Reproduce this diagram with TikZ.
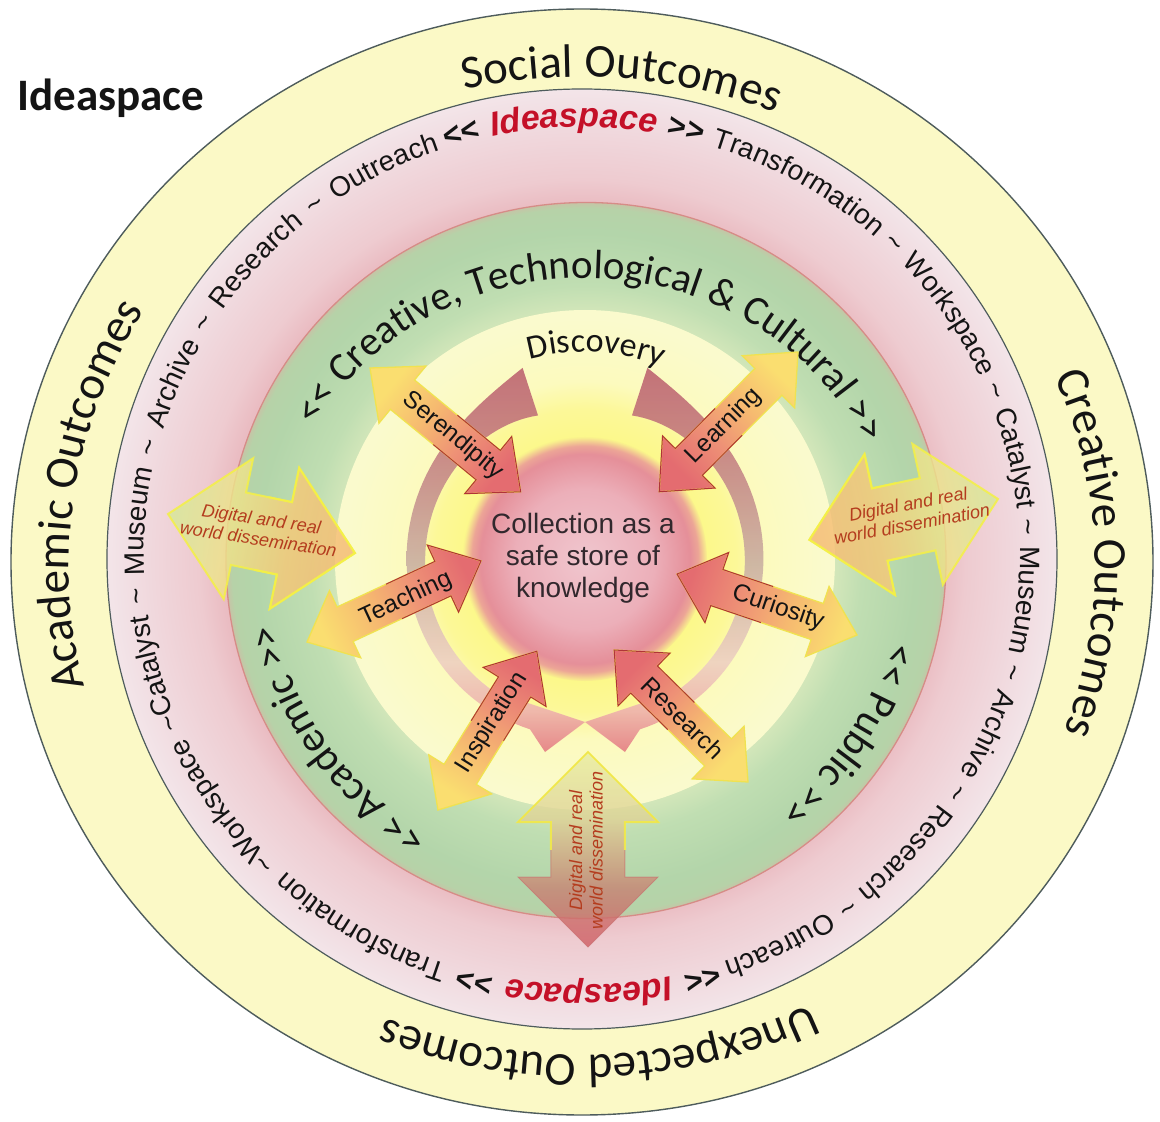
\documentclass[tikz,border=0pt]{standalone}
\usepackage{fontspec}
\newfontfamily\calib{Carlito}
\newfontfamily\arial{Liberation Sans}
\usetikzlibrary{decorations.text}

% ---------- colours ----------
\definecolor{outerfill}{RGB}{251,249,198}
\definecolor{ringline}{RGB}{78,92,92}
\definecolor{pr1}{RGB}{234,188,194}
\definecolor{pr2}{RGB}{238,203,208}
\definecolor{pr3}{RGB}{240,215,220}
\definecolor{pr4}{RGB}{243,229,233}
\definecolor{gr0}{RGB}{212,231,186}
\definecolor{gr1}{RGB}{192,222,178}
\definecolor{gr2}{RGB}{179,213,170}
\definecolor{gr3}{RGB}{182,210,168}
\definecolor{gr4}{RGB}{198,196,166}
\definecolor{greenrim}{RGB}{214,140,135}
\definecolor{yl0}{RGB}{252,248,135}
\definecolor{yl1}{RGB}{252,248,152}
\definecolor{yl2}{RGB}{252,250,190}
\definecolor{yl3}{RGB}{250,250,205}
\definecolor{pk0}{RGB}{240,198,206}
\definecolor{pk1}{RGB}{236,175,185}
\definecolor{pk2}{RGB}{229,143,153}
\definecolor{pk3}{RGB}{236,165,150}
\definecolor{pk4}{RGB}{250,244,140}
\definecolor{sa1}{RGB}{250,222,112}
\definecolor{sa2}{RGB}{246,186,112}
\definecolor{sa3}{RGB}{238,145,118}
\definecolor{sa4}{RGB}{228,108,112}
\definecolor{rimyel}{RGB}{240,226,80}
\definecolor{rimred}{RGB}{176,52,56}
\definecolor{dg1}{RGB}{214,232,150}
\definecolor{dg2}{RGB}{238,230,140}
\definecolor{dg3}{RGB}{246,200,118}
\definecolor{dg4}{RGB}{244,184,112}
\definecolor{db1}{RGB}{208,92,100}
\definecolor{db2}{RGB}{200,130,115}
\definecolor{db3}{RGB}{222,210,150}
\definecolor{db4}{RGB}{232,236,160}
\definecolor{rimglow}{RGB}{244,240,70}
\definecolor{rimrose}{RGB}{200,110,110}
\definecolor{b0}{RGB}{190,100,112}
\definecolor{b1}{RGB}{196,125,128}
\definecolor{b2}{RGB}{202,176,162}
\definecolor{b3}{RGB}{238,208,194}
\definecolor{b4}{RGB}{238,178,172}
\definecolor{b5}{RGB}{228,124,130}
\definecolor{ink}{RGB}{20,20,20}
\definecolor{idred}{RGB}{196,16,40}
\definecolor{dissred}{RGB}{180,60,30}
\definecolor{coreink}{RGB}{50,40,45}

% ---------- shadings ----------
\pgfdeclareradialshading{pinkring}{\pgfpointorigin}{color(0bp)=(pr1); color(18.9bp)=(pr1); color(20.2bp)=(pr2); color(22.6bp)=(pr3); color(25bp)=(pr4); color(50bp)=(pr4)}
\pgfdeclareradialshading{greendisc}{\pgfpointorigin}{color(0bp)=(gr0); color(17.2bp)=(gr0); color(19.2bp)=(gr1); color(22.9bp)=(gr2); color(24.6bp)=(gr3); color(25bp)=(gr4); color(50bp)=(gr4)}
\pgfdeclareradialshading{yellowdisc}{\pgfpointorigin}{color(0bp)=(yl0); color(11.4bp)=(yl0); color(15.1bp)=(yl1); color(17.9bp)=(yl2); color(24.2bp)=(yl3); color(25bp)=(yl3); color(50bp)=(yl3)}
\pgfdeclareradialshading{coredisc}{\pgfpointorigin}{color(0bp)=(pk0); color(14.3bp)=(pk1); color(21.5bp)=(pk2); color(23.2bp)=(pk3); color(25bp)=(pk4); color(50bp)=(pk4)}
\pgfdeclarehorizontalshading{smallgrad}{100bp}{color(0bp)=(sa1); color(25bp)=(sa1); color(42bp)=(sa2); color(58bp)=(sa3); color(75bp)=(sa4); color(100bp)=(sa4)}
\pgfdeclarehorizontalshading{sidegrad}{100bp}{color(0bp)=(dg1); color(25bp)=(dg1); color(40bp)=(dg2); color(58bp)=(dg3); color(75bp)=(dg4); color(100bp)=(dg4)}
\pgfdeclarehorizontalshading{bottomgrad}{100bp}{color(0bp)=(db1); color(25bp)=(db1); color(40bp)=(db2); color(58bp)=(db3); color(75bp)=(db4); color(100bp)=(db4)}
\pgfdeclareverticalshading{bandgrad}{100bp}{color(0bp)=(b5); color(25bp)=(b5); color(30.4bp)=(b4); color(36.7bp)=(b3); color(49.5bp)=(b2); color(64.8bp)=(b1); color(75bp)=(b0); color(100bp)=(b0)}

% ---------- double-headed arrow outline ----------
% #1 length, #2 head length, #3 head half width, #4 shaft half width
\newcommand\twowaypath[4]{(0,0) -- (#2,#3) -- (#2,#4) -- ({#1-#2},#4) -- ({#1-#2},#3) -- (#1,0) -- ({#1-#2},-#3) -- ({#1-#2},-#4) -- (#2,-#4) -- (#2,-#3) -- cycle}
% #1 outer tip, #2 direction, #3..#6 as above, #7 look
\newcommand\twowayarrow[7]{%
  \begin{scope}[shift={(#1)}, rotate=#2, shading angle=#2, #7]
    \path[twoway fill] \twowaypath{#3}{#4}{#5}{#6};
    \draw[twoway rim out] \twowaypath{#3}{#4}{#5}{#6};
    \begin{scope}
      \clip ({#3/2},{-#5-6}) rectangle ({#3+6},{#5+6});
      \draw[twoway rim in] \twowaypath{#3}{#4}{#5}{#6};
    \end{scope}
  \end{scope}}

% ---------- text formats ----------
\newcommand\outerfmt{\calib\fontsize{47}{56}\selectfont\color{ink}}
\newcommand\greenfmt{\calib\fontsize{41}{49}\selectfont\color{ink}}
\newcommand\greenlow{\calib\fontsize{42}{50}\selectfont\color{ink}}
\newcommand\discfmt{\calib\fontsize{34}{40}\selectfont\color{ink}}
\newcommand\rngN{\arial\fontsize{28}{34}\selectfont\color{ink}}
\newcommand\rngB{\arial\bfseries\fontsize{31}{36}\selectfont\color{ink}}
\newcommand\rngI{\arial\bfseries\itshape\fontsize{34}{40}\selectfont\color{idred}}

\tikzset{
  arctext/.style={decorate, decoration={text along path, text={#1}, text align=center}},
  ringtext/.style={decorate, decoration={text along path, text={#1}, text align={fit to path stretching spaces}}},
  arrlab/.style={font=\arial\fontsize{24.5}{28}\selectfont, text=ink, inner sep=0pt},
  disslab/.style={font=\arial\itshape\fontsize{18}{20.5}\selectfont, text=dissred, align=center, inner sep=0pt},
  twoway fill/.style={}, twoway rim out/.style={}, twoway rim in/.style={},
  small arrow/.style={
    twoway fill/.style={shade, shading=smallgrad},
    twoway rim out/.style={draw=rimyel, line width=1.3pt},
    twoway rim in/.style={draw=rimred, line width=1pt}},
  side arrow/.style={
    twoway fill/.style={shade, shading=sidegrad, fill opacity=0.8},
    twoway rim out/.style={draw=rimglow, line width=2pt, draw opacity=0.85},
    twoway rim in/.style={draw=rimglow, line width=2pt, draw opacity=0.85}},
  bottom arrow/.style={
    twoway fill/.style={shade, shading=bottomgrad, fill opacity=0.8},
    twoway rim out/.style={draw=rimrose, line width=1pt, draw opacity=0.6},
    twoway rim in/.style={draw=rimglow, line width=2pt, draw opacity=0.85}},
}

\begin{document}
\begin{tikzpicture}[x=1pt, y=1pt]
\useasboundingbox (-582,-561) rectangle (578,561);
\fill[white] (-582,-561) rectangle (578,561);

% ---------- rings ----------
\draw[fill=outerfill, draw=ringline, line width=1.4pt] (0,-1) ellipse [x radius=571, y radius=553];
\shade[shading=pinkring, draw=ringline, line width=1.2pt] (0,2) ellipse [x radius=475, y radius=470];
\shade[shading=greendisc, draw=greenrim, line width=1.3pt] (4,0.5) ellipse [x radius=360, y radius=358];
\shade[shading=yellowdisc] (3,1) circle [radius=250];
\shade[shading=coredisc] (3,2) circle [radius=122];

% ---------- outer ring labels ----------
\path[arctext={|\outerfmt|Social Outcomes}] (0,-5) ++(125.5:513 and 489) arc[start angle=125.5, end angle=45.5, x radius=513, y radius=489];
\path[arctext={|\outerfmt|Creative Outcomes}] (0,-5) ++(41.5:513 and 489) arc[start angle=41.5, end angle=-38.5, x radius=513, y radius=489];
\path[arctext={|\outerfmt|Unexpected Outcomes}] (0,-5) ++(312:513 and 489) arc[start angle=312, end angle=232, x radius=513, y radius=489];
\path[arctext={|\outerfmt|Academic Outcomes}] (0,-5) ++(211.5:513 and 489) arc[start angle=211.5, end angle=131.5, x radius=513, y radius=489];

% ---------- pink ring loop ----------
\path[ringtext={|\rngB|<< |\rngI|Ideaspace|\rngB| >>|\rngN| Transformation {\textasciitilde} Workspace {\textasciitilde} Catalyst {\textasciitilde} Museum {\textasciitilde} Archive {\textasciitilde} Research {\textasciitilde} Outreach}]
  (0,5) ++(108:438 and 429) arc[start angle=108, end angle=-71, x radius=438, y radius=429];
\path[ringtext={|\rngB|<< |\rngI|Ideaspace|\rngB| >>|\rngN| Transformation {\textasciitilde}Workspace {\textasciitilde}Catalyst {\textasciitilde} Museum {\textasciitilde} Archive {\textasciitilde} Research {\textasciitilde} Outreach}]
  (0,5) ++(-72:438 and 429) arc[start angle=-72, end angle=-251, x radius=438, y radius=429];

% ---------- green band labels ----------
\path[arctext={|\greenfmt|<< Creative, Technological {\&} Cultural >>}] (3,1) ++(175:306 and 282) arc[start angle=175, end angle=1, x radius=306, y radius=282];
\path[arctext={|\greenlow|<< Academic >>}] (3,1) ++(256:316) arc[start angle=256, end angle=176, radius=316];
\path[arctext={|\greenlow|<< Public >>}] (3,1) ++(6.5:316) arc[start angle=6.5, end angle=-73.5, radius=316];
\path[arctext={|\discfmt|Discovery}] (3,1) ++(137:208) arc[start angle=137, end angle=37, radius=208];

% ---------- circulating bands ----------
\shade[shading=bandgrad, fill opacity=0.9]
  plot[domain=108:252, samples=60] ({3+(178+24*exp(-(\x-108)/18))*cos(\x)}, {1+(178+24*exp(-(\x-108)/18))*sin(\x)})
  -- (-37,-191) -- (3,-161) -- (-69,-137)
  -- plot[domain=244:108, samples=60] ({3+(160-8*exp(-(\x-108)/18))*cos(\x)}, {1+(160-8*exp(-(\x-108)/18))*sin(\x)})
  -- cycle;
\shade[shading=bandgrad, fill opacity=0.9]
  plot[domain=72:-72, samples=60] ({3+(178+24*exp(-(72-\x)/18))*cos(\x)}, {1+(178+24*exp(-(72-\x)/18))*sin(\x)})
  -- (43,-191) -- (3,-161) -- (75,-137)
  -- plot[domain=-64:72, samples=60] ({3+(160-8*exp(-(72-\x)/18))*cos(\x)}, {1+(160-8*exp(-(72-\x)/18))*sin(\x)})
  -- cycle;

% ---------- dissemination arrows ----------
\coordinate (dissLo) at (-414,47);
\coordinate (dissRo) at (416,62);
\coordinate (dissBo) at (6,-386);
\twowayarrow{dissLo}{-11.8}{191}{72}{72}{37}{side arrow}
\twowayarrow{dissRo}{192.2}{193}{72}{72}{37}{side arrow}
\twowayarrow{dissBo}{90}{195}{70}{70}{37}{bottom arrow}
\node[disslab, rotate=-8.5] (dissL) at (-322,32) {Digital and real\\world dissemination};
\node[disslab, rotate=10.5] (dissR) at (328,47) {Digital and real\\world dissemination};
\node[disslab, rotate=90] (dissB) at (4,-289) {Digital and real\\world dissemination};

% ---------- six pathways to the collection ----------
\coordinate (serO) at (-212,193);
\coordinate (leaO) at (216,209);
\coordinate (teaO) at (-275,-81);
\coordinate (curO) at (275,-74);
\coordinate (insO) at (-144,-249);
\coordinate (resO) at (166,-221);
\twowayarrow{serO}{-39.4}{195}{42}{37}{19}{small arrow}
\twowayarrow{leaO}{225.2}{197}{42}{37}{19}{small arrow}
\twowayarrow{teaO}{25}{192}{42}{37}{19}{small arrow}
\twowayarrow{curO}{161.3}{190}{42}{37}{19}{small arrow}
\twowayarrow{insO}{58.1}{187}{42}{37}{19}{small arrow}
\twowayarrow{resO}{135.4}{188}{42}{37}{19}{small arrow}
\node[arrlab, rotate=-39.4] (tSer) at (-129,125) {Serendipity};
\node[arrlab, rotate=45.2] (tLea) at (142,135) {Learning};
\node[arrlab, rotate=25] (tTea) at (-176,-38) {Teaching};
\node[arrlab, rotate=-18.7] (tCur) at (196,-47) {Curiosity};
\node[arrlab, rotate=58.1] (tIns) at (-90,-162) {Inspiration};
\node[arrlab, rotate=-44.6] (tRes) at (101,-157) {Research};

% ---------- centre ----------
\node[font=\arial\fontsize{28}{32}\selectfont, text=coreink, align=center] (core) at (1,3) {Collection as a\\safe store of\\knowledge};

% ---------- heading ----------
\node[anchor=base west, font=\calib\bfseries\fontsize{45}{54}\selectfont, text=ink, inner sep=0pt] (title) at (-565,450) {Ideaspace};
\end{tikzpicture}
\end{document}
